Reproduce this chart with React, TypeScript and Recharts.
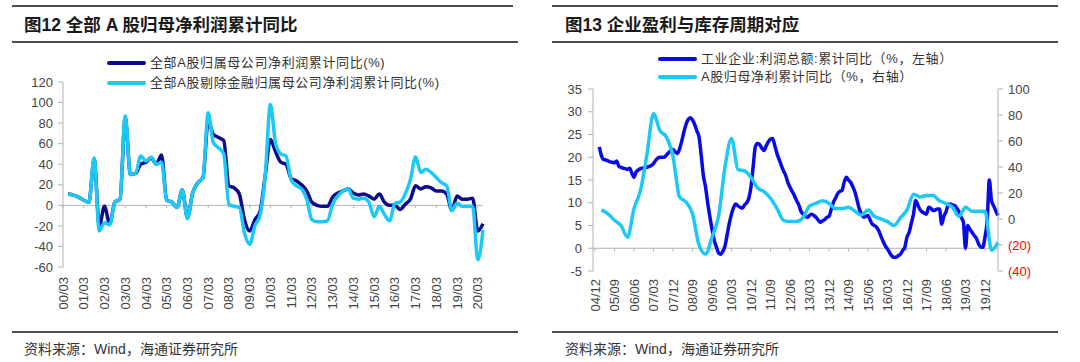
import React from 'react';
import { LineChart, Line, XAxis, YAxis, ReferenceLine } from 'recharts';

// ---------- Figure 12 data (quarterly, 00/03 .. 20/06) ----------
const leftCategories: string[] = [
  '00/03','00/06','00/09','00/12','01/03','01/06','01/09','01/12','02/03','02/06','02/09','02/12',
  '03/03','03/06','03/09','03/12','04/03','04/06','04/09','04/12','05/03','05/06','05/09','05/12',
  '06/03','06/06','06/09','06/12','07/03','07/06','07/09','07/12','08/03','08/06','08/09','08/12',
  '09/03','09/06','09/09','09/12','10/03','10/06','10/09','10/12','11/03','11/06','11/09','11/12',
  '12/03','12/06','12/09','12/12','13/03','13/06','13/09','13/12','14/03','14/06','14/09','14/12',
  '15/03','15/06','15/09','15/12','16/03','16/06','16/09','16/12','17/03','17/06','17/09','17/12',
  '18/03','18/06','18/09','18/12','19/03','19/06','19/09','19/12','20/03','20/06',
];
const allAShares: (number | null)[] = [
  null, 11, 10, 8, 5, 3, 45, -20, -1, -18, 3, 6,
  85, 30, 31, 40, 42, 46, 40, 49, 5, 3, -2, 15,
  -12, 12, 22, 27, 82, 69, 66, 63, 19, 17, 11, -14,
  -25, -14, -6, 29, 64, 52, 42, 40, 26, 24, 20, 14,
  3, 0, -1, -1, 8, 12, 14, 16, 12, 10, 11, 9,
  6, 11, 3, 0, 0, -4, 1, 6, 19, 16, 18, 17,
  14, 14, 11, -5, 9, 6, 6, 7, -25, -18,
];
const exFinancials: (number | null)[] = [
  null, 11, 10, 8, 5, 3, 46, -25, -17, -19, 3, 6,
  87, 30, 31, 48, 43, 47, 40, 42, 5, 3, -2, 15,
  -13, 12, 22, 27, 90, 61, 56, 50, 1, -1, -2, -27,
  -38, -20, -10, 29, 98, 60, 50, 48, 25, 19, 16, 6,
  -14, -16, -16, -15, 1, 9, 14, 16, 7, 6, 7, 3,
  -11, -1, -9, -15, 2, 3, 11, 25, 47, 32, 35, 32,
  27, 22, 19, -5, 2, -1, -1, -1, -53, -24,
];
const leftYTicks = [-60, -40, -20, 0, 20, 40, 60, 80, 100, 120];

// ---------- Figure 13 data (monthly, 04/12 .. 20/06) ----------
const rightStart = { year: 2004, month: 12 };
const rightCount = 187;
const industrialProfit: (number | null)[] = [
  null, null, 22.3, 20.3, 19.5, 19.4, 19.2, 19.0, 18.9, 18.8, 19.2, 18.0,
  17.8, 17.6, 17.5, 17.3, 17.6, 16.5, 15.6, 16.8, 17.2, 17.5, 17.6, 17.7,
  17.8, 18.0, 18.2, 18.6, 19.3, 19.8, 20.0, 20.0, 20.0, 20.5, 21.0, 21.5,
  21.7, 21.2, 20.8, 21.8, 23.5, 25.5, 27.2, 28.3, 28.7, 28.2, 27.2, 25.8,
  24.5, 20.5, 16.0, 13.5, 10.0, 7.0, 4.2, 1.8, 0.3, -1.0, -1.3, -0.7,
  0.5, 3.0, 5.5, 7.5, 9.0, 9.7, 9.3, 9.0, 8.8, 9.5, 10.0, 11.0,
  13.5, 18.0, 22.3, 23.0, 22.8, 22.0, 21.5, 22.5, 23.4, 24.0, 24.1, 22.5,
  20.8, 19.5, 18.2, 17.0, 16.0, 14.5, 13.4, 12.5, 11.6, 10.5, 9.6, 8.2,
  7.5, 7.0, 6.8, 7.2, 7.5, 7.2, 6.8, 6.2, 5.7, 6.0, 6.3, 6.8,
  7.0, 8.5, 10.1, 11.0, 12.0, 12.5, 12.7, 14.5, 15.6, 15.0, 14.5, 13.5,
  12.3, 10.5, 8.6, 7.5, 6.8, 7.0, 7.2, 6.2, 5.3, 5.0, 4.6, 3.8,
  2.6, 1.5, 0.5, -0.2, -1.0, -1.7, -2.0, -2.0, -1.6, -1.3, -0.5, 0.2,
  2.5, 3.5, 5.5, 7.5, 10.5, 9.5, 8.5, 8.0, 7.7, 7.5, 9.0, 8.8,
  8.3, 8.4, 8.6, 8.6, 5.3, 7.0, 8.0, 9.5, 9.7, 9.5, 9.4, 8.8,
  8.0, 6.8, 5.8, 0.0, 5.0, 4.2, 3.5, 2.8, 2.2, 1.0, 0.3, 0.2,
  2.5, 6.0, 15.0, 10.5, 9.3, 8.2, 7.2,
];
// quarterly values at months 04/12, 05/03, 05/06, ... 20/06
const aShareQuarterly: (number | null)[] = [
  null, 7, 4, -1, -5, -14, 8, 22, 50, 81, 68, 63,
  48, 17, 13, 4, -20, -27, -14, 2, 40, 62, 38, 37,
  32, 24, 21, 16, 8, -1, -2, -2, 1, 10, 12, 14,
  12, 8, 8, 9, 6, 3, 7, 2, 0, -2, -5, 1,
  7, 19, 17, 18, 18, 14, 12, 9, 2, 9, 6, 6,
  6, -24, -18,
];
const rightLeftTicks = [-5, 0, 5, 10, 15, 20, 25, 30, 35];
const rightRightTicks = [-40, -20, 0, 20, 40, 60, 80, 100];

// ---------- build tables ----------
const leftData = leftCategories.map((d, i) => ({ d, a: allAShares[i], b: exFinancials[i] }));

const rightCategories: string[] = [];
for (let k = 0; k < rightCount; k++) {
  const tot = rightStart.year * 12 + (rightStart.month - 1) + k;
  const y = Math.floor(tot / 12) % 100;
  const m = (tot % 12) + 1;
  rightCategories.push(`${String(y).padStart(2, '0')}/${String(m).padStart(2, '0')}`);
}
const rightData = rightCategories.map((d, k) => ({
  d,
  p: industrialProfit[k],
  q: k % 3 === 0 ? aShareQuarterly[k / 3] : null,
}));
const leftTickCats = leftCategories.filter((_, i) => i % 4 === 0);
const rightTickCats = rightCategories.filter((_, i) => i % 9 === 0);

const LATIN = '"Liberation Sans", Arial, "Noto Sans CJK SC", sans-serif';
const CJK = '"Liberation Sans", "Noto Sans CJK SC", sans-serif';
const AXIS = '#b3b3b3';
const TXT = '#444';

const RotTick = (props: any) => {
  const { x, y, payload } = props;
  return (
    <text
      x={x}
      y={y}
      transform={`rotate(-90, ${x}, ${y})`}
      textAnchor="end"
      dy="0.35em"
      fill={TXT}
      fontSize={13}
      fontFamily={LATIN}
    >
      {payload.value}
    </text>
  );
};

const RightAxisTick = (props: any) => {
  const { x, y, payload } = props;
  const v = payload.value as number;
  const label = v < 0 ? `(${Math.abs(v)})` : String(v);
  return (
    <text x={x} y={y} dy="0.35em" textAnchor="start" fill={v < 0 ? '#ff0000' : TXT} fontSize={13} fontFamily={LATIN}>
      {label}
    </text>
  );
};

const Rule = ({ x1, x2, y }: { x1: number; x2: number; y: number }) => (
  <div style={{ position: 'absolute', left: x1, top: y, width: x2 - x1, height: 1.5, background: '#4d4d4d' }} />
);

const LegendItem = ({ x, y, color, text }: { x: number; y: number; color: string; text: string }) => (
  <div style={{ position: 'absolute', left: x, top: y - 10, height: 20, display: 'flex', alignItems: 'center' }}>
    <div style={{ width: 39, height: 4, background: color, borderRadius: 2 }} />
    <span
      style={{
        marginLeft: 4,
        fontSize: 13,
        letterSpacing: 0.6,
        color: '#333',
        fontFamily: CJK,
        whiteSpace: 'nowrap',
        lineHeight: '20px',
      }}
    >
      {text}
    </span>
  </div>
);

const Title = ({ x, text }: { x: number; text: string }) => (
  <div
    style={{
      position: 'absolute',
      left: x,
      top: 13,
      height: 24,
      lineHeight: '24px',
      fontSize: 17.5,
      fontWeight: 700,
      color: '#1a1a1a',
      fontFamily: CJK,
      whiteSpace: 'nowrap',
    }}
  >
    {text}
  </div>
);

const Source = ({ x }: { x: number }) => (
  <div
    style={{
      position: 'absolute',
      left: x,
      top: 339,
      height: 20,
      lineHeight: '20px',
      fontSize: 14,
      color: '#333',
      fontFamily: CJK,
      whiteSpace: 'nowrap',
    }}
  >
    资料来源：Wind，海通证券研究所
  </div>
);

export default function App() {
  return (
    <div style={{ position: 'absolute', left: 0, top: 0, width: 1080, height: 362, background: '#fff', overflow: 'hidden' }}>
      {/* Left chart */}
      <div style={{ position: 'absolute', left: 0, top: 0 }}>
        <LineChart width={540} height={362} data={leftData} margin={{ top: 82, right: 57, bottom: 55, left: 33 }}>
          <XAxis
            dataKey="d"
            interval={3}
            height={40}
            axisLine={false}
            tickLine={false}
            tickSize={6}
            tickMargin={4}
            tick={<RotTick />}
          />
          <YAxis
            width={30}
            domain={[-60, 120]}
            ticks={leftYTicks}
            interval={0}
            axisLine={{ stroke: AXIS }}
            tickLine={{ stroke: AXIS }}
            tickSize={5}
            tickMargin={5}
            tick={{ fill: TXT, fontSize: 13, fontFamily: LATIN }}
          />
          <ReferenceLine y={0} stroke={AXIS} strokeWidth={1} />
          {leftTickCats.map((c) => (
            <ReferenceLine key={c} segment={[{ x: c, y: 0 }, { x: c, y: -3 }]} stroke={AXIS} strokeWidth={1} />
          ))}
          <Line type="monotone" dataKey="a" stroke="#0d0d8a" strokeWidth={3.5} dot={false} isAnimationActive={false} />
          <Line type="monotone" dataKey="b" stroke="#1cc8f6" strokeWidth={3.5} dot={false} isAnimationActive={false} />
        </LineChart>
      </div>

      {/* Right chart */}
      <div style={{ position: 'absolute', left: 540, top: 0 }}>
        <LineChart width={540} height={362} data={rightData} margin={{ top: 89, right: 42, bottom: 46, left: 13 }}>
          <XAxis
            dataKey="d"
            interval={8}
            height={45}
            padding={{ left: 2, right: 0 }}
            axisLine={false}
            tickLine={false}
            tickSize={6}
            tickMargin={2}
            tick={<RotTick />}
          />
          <YAxis
            yAxisId="L"
            width={40}
            domain={[-5, 35]}
            ticks={rightLeftTicks}
            interval={0}
            axisLine={{ stroke: AXIS }}
            tickLine={{ stroke: AXIS }}
            tickSize={5}
            tickMargin={6}
            tick={{ fill: TXT, fontSize: 13, fontFamily: LATIN }}
          />
          <YAxis
            yAxisId="R"
            orientation="right"
            width={40}
            domain={[-40, 100]}
            ticks={rightRightTicks}
            interval={0}
            axisLine={{ stroke: AXIS }}
            tickLine={{ stroke: AXIS }}
            tickSize={5}
            tickMargin={5}
            tick={<RightAxisTick />}
          />
          <ReferenceLine yAxisId="L" y={0} stroke={AXIS} strokeWidth={1} />
          {rightTickCats.map((c) => (
            <ReferenceLine
              key={c}
              yAxisId="L"
              segment={[{ x: c, y: 0 }, { x: c, y: -0.7 }]}
              stroke={AXIS}
              strokeWidth={1}
            />
          ))}
          <Line yAxisId="L" type="monotone" dataKey="p" stroke="#0a0ae6" strokeWidth={3.5} dot={false} isAnimationActive={false} />
          <Line yAxisId="R" type="monotone" dataKey="q" connectNulls stroke="#1cc8f6" strokeWidth={3.5} dot={false} isAnimationActive={false} />
        </LineChart>
      </div>

      {/* Left panel decorations */}
      <Rule x1={12} x2={513} y={5} />
      <Title x={24} text="图12 全部 A 股归母净利润累计同比" />
      <Rule x1={12} x2={518} y={41} />
      <LegendItem x={107} y={63} color="#0d0d8a" text="全部A股归属母公司净利润累计同比(%)" />
      <LegendItem x={107} y={83} color="#1cc8f6" text="全部A股剔除金融归属母公司净利润累计同比(%)" />
      <Rule x1={12} x2={518} y={331} />
      <Source x={24} />

      {/* Right panel decorations */}
      <Rule x1={552} x2={1058} y={5} />
      <Title x={565} text="图13 企业盈利与库存周期对应" />
      <Rule x1={552} x2={1058} y={41} />
      <LegendItem x={658} y={59} color="#0a0ae6" text="工业企业:利润总额:累计同比（%，左轴）" />
      <LegendItem x={658} y={77} color="#1cc8f6" text="A股归母净利累计同比（%，右轴）" />
      <Rule x1={552} x2={1058} y={331} />
      <Source x={565} />
    </div>
  );
}
